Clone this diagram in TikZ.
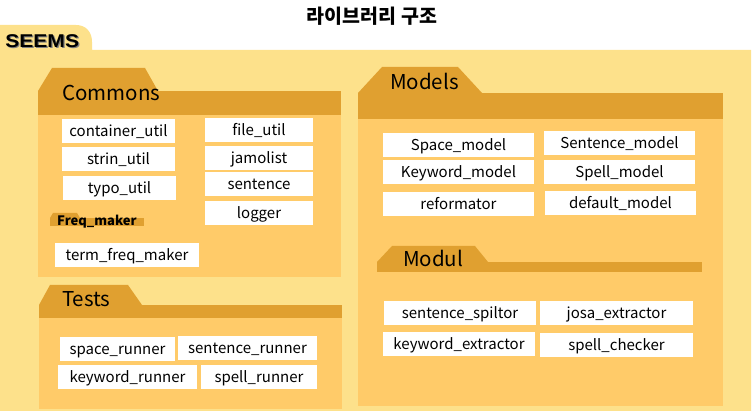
\documentclass[tikz,border=0pt]{standalone}
\usepackage{fontspec}
\setmainfont{Noto Sans CJK KR}
\newfontfamily\logofont{Liberation Sans}
\usepackage{tikz}
\definecolor{outerbg}{HTML}{FDE18B}
\definecolor{folderbar}{HTML}{E0A030}
\definecolor{folderbody}{HTML}{FFCB69}

\begin{document}
\begin{tikzpicture}[x=1pt,y=-1pt,
  item/.style={fill=white,inner sep=0pt,minimum height=24pt,text height=12.5pt,text depth=2pt,
    font=\fontsize{15}{15}\selectfont},
  head/.style={anchor=west,inner sep=0pt,font=\fontsize{20.5}{20.5}\selectfont}]
\useasboundingbox (0,0) rectangle (756,411);
% outer SEEMS folder
\fill[outerbg] (0,411) -- (0,25) -- (76,25) .. controls (86,25) and (92,32) .. (92,42)
  -- (92,50) -- (751,50) -- (751,411) -- cycle;
\node[inner sep=0pt,font=\logofont\bfseries\fontsize{18.5}{18.5}\selectfont,text=gray,xscale=1.14] at (43.4,42.4) {SEEMS};
\node (seems) [inner sep=0pt,font=\logofont\bfseries\fontsize{18.5}{18.5}\selectfont,xscale=1.14] at (42.2,41.2) {SEEMS};
\node (title) [font=\bfseries\fontsize{19.5}{19.5}\selectfont] at (372,16) {라이브러리 구조};

% Commons
\fill[folderbar] (38,91) -- (52,68) -- (145,68) -- (158,91) -- cycle;
\fill[folderbar] (38,91) rectangle (341,115);
\fill[folderbody] (38,115) rectangle (341,277);
\node (commons) [head] at (62,93) {Commons};
\node (container) [item,minimum width=113pt] at (118.5,131.5) {container\_util};
\node (strin) [item,minimum width=113pt] at (118.5,159) {strin\_util};
\node (typo) [item,minimum width=113pt] at (119.5,188.5) {typo\_util};
\node (file) [item,minimum width=108pt] at (259,130.5) {file\_util};
\node (jamo) [item,minimum width=108pt] at (259,158) {jamolist};
\node (sent) [item,minimum width=108pt] at (259,184.5) {sentence};
\node (logger) [item,minimum width=108pt] at (259,213) {logger};
% Freq_maker
\fill[folderbar] (50,218) -- (53,213) -- (77,213) -- (80,218) -- cycle;
\fill[folderbar] (50,218) rectangle (144,226);
\node (freq) [head,font=\bfseries\fontsize{13}{13}\selectfont] at (57,222) {Freq\_maker};
\node (termfreq) [item,minimum width=144pt] at (127,255) {term\_freq\_maker};

% Tests
\fill[folderbar] (39,305) -- (50,285) -- (128,285) -- (142,305) -- cycle;
\fill[folderbar] (39,305) rectangle (342,318);
\fill[folderbody] (39,318) rectangle (342,409);
\node (tests) [head] at (62,299) {Tests};
\node (spacerun) [item,minimum width=115pt] at (117.5,349) {space\_runner};
\node (sentrun) [item,minimum width=139pt] at (247.5,348) {sentence\_runner};
\node (keyrun) [item,minimum width=139pt] at (127.5,377.5) {keyword\_runner};
\node (spellrun) [item,minimum width=116pt] at (259,377) {spell\_runner};

% Models
\fill[folderbar] (358,93) -- (382,67) -- (458,67) -- (482,93) -- cycle;
\fill[folderbar] (358,93) rectangle (723,119);
\fill[folderbody] (358,119) rectangle (723,406);
\node (models) [head] at (390,81) {Models};
\node (spacemod) [item,minimum width=151pt] at (458.5,145) {Space\_model};
\node (sentmod) [item,minimum width=151pt] at (619.5,143) {Sentence\_model};
\node (keymod) [item,minimum width=151pt] at (458.5,172.5) {Keyword\_model};
\node (spellmod) [item,minimum width=151pt] at (619.5,172) {Spell\_model};
\node (reform) [item,minimum width=151pt] at (458.5,204) {reformator};
\node (defmod) [item,minimum width=151pt] at (620.5,203.5) {default\_model};

% Modul
\fill[folderbar] (377,262) -- (392,246) -- (475,246) -- (488,262) -- cycle;
\fill[folderbar] (377,262) rectangle (702,272);
\node (modul) [head] at (403,258) {Modul};
\node (splitter) [item,minimum width=152pt] at (460,313) {sentence\_spiltor};
\node (josa) [item,minimum width=153pt] at (616.5,313) {josa\_extractor};
\node (keyext) [item,minimum width=152pt] at (459,344) {keyword\_extractor};
\node (spellchk) [item,minimum width=153pt] at (616.5,345) {spell\_checker};
\end{tikzpicture}
\end{document}
